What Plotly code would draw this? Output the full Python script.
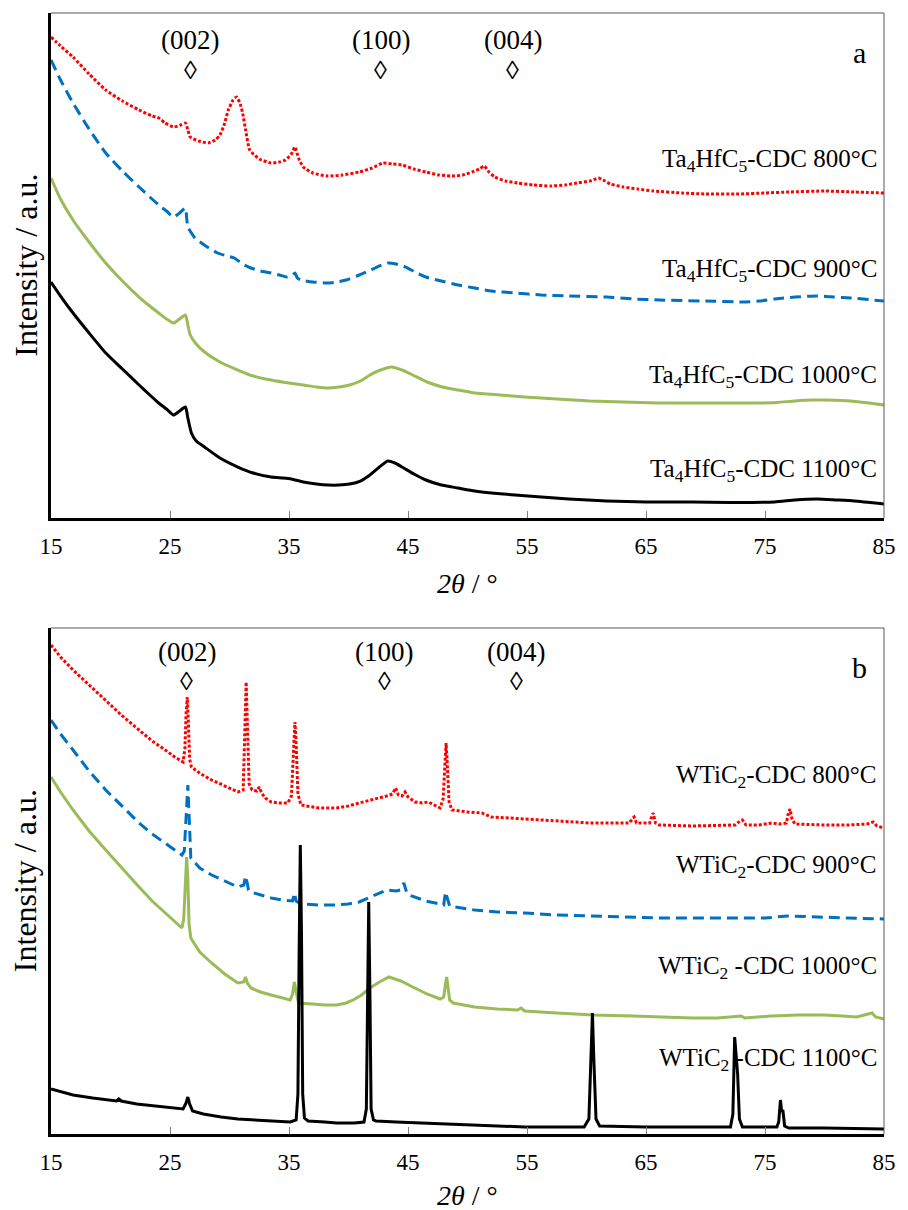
import plotly.graph_objects as go

# ---------------- Panel a : Ta4HfC5-CDC ----------------
a800_x = [15, 15.8, 16.85, 18.2, 19.6, 21.0, 22.4, 23.5, 24.05, 24.6, 25.3, 25.9, 26.3, 26.5, 26.7, 27.4, 28.2, 28.8, 29.2, 29.6, 29.9, 30.3, 30.6, 30.9, 31.1, 31.4, 31.7, 32.5, 33.5, 34.2, 34.7, 35.2, 35.5, 35.8, 36.2, 37.0, 38.2, 39.5, 40.9, 42.0, 42.9, 43.7, 44.5, 45.5, 46.5, 47.6, 48.7, 49.6, 50.4, 51.0, 51.4, 51.8, 52.3, 53.2, 54.2, 55.5, 57.0, 58.2, 59.2, 60.3, 61.0, 61.4, 62.0, 63.1, 64.3, 65.6, 68, 70, 72.8, 75, 77, 80.0, 82.5, 85]
a800_y = [481, 472, 461, 444, 428, 417, 408, 402, 400, 395, 391, 393, 395, 388, 381, 377, 375, 378, 383, 395, 408, 418, 421, 414, 405, 385, 368, 359, 355, 356, 358, 364, 371, 360, 351, 345, 342, 343, 346, 350, 355, 354, 353, 349, 346, 343, 342, 343, 346, 349, 352, 346, 341, 337, 335, 333, 332, 333, 335, 337, 340, 338, 334, 331, 329, 327, 325, 324, 324, 325, 326, 327, 326, 325]

a900_x = [15, 15.8, 16.85, 18.2, 19.6, 21.0, 22.4, 23.3, 24.05, 24.7, 25.3, 25.8, 26.3, 26.4, 26.5, 26.8, 27.1, 28.0, 29.0, 29.8, 30.4, 31.1, 31.8, 32.6, 33.5, 34.2, 34.8, 35.2, 35.5, 35.7, 36.0, 37.0, 38.2, 39.0, 39.8, 40.7, 41.5, 42.4, 43.3, 44.0, 44.8, 45.6, 46.5, 47.8, 49.2, 50.6, 52.0, 54.0, 56.2, 58.5, 61.7, 64, 66.1, 70, 73.1, 74.5, 75.8, 77.5, 79.4, 80.8, 82.2, 85]
a900_y = [458, 438, 415, 389, 365, 347, 331, 321, 313, 307, 301, 305, 310, 300, 291, 285, 280, 272, 265, 262, 260, 254, 250, 247, 245, 243, 241, 242, 245, 240, 238, 236, 235, 236, 238, 242, 246, 251, 255, 254, 251, 246, 241, 237, 233, 230, 227, 225, 223, 222, 221, 219, 218, 217, 216, 217, 219, 221, 222, 221, 220, 217]

a1000_x = [15, 15.8, 16.85, 18.2, 19.6, 21.0, 22.4, 23.3, 24.05, 24.7, 25.3, 25.8, 26.3, 26.5, 26.7, 27.2, 27.9, 29.2, 30.7, 32.0, 33.5, 35.0, 36.2, 37.3, 38.3, 39.2, 40.1, 41.0, 41.8, 42.7, 43.6, 44.5, 45.4, 46.6, 47.9, 49.2, 50.6, 52.7, 54.8, 57.5, 60.3, 63.1, 66, 68.9, 71.5, 74.4, 76, 77.5, 79, 80.0, 81.5, 83, 85]
a1000_y = [340, 319, 298, 276, 255, 237, 221, 212, 205, 199, 195, 199, 203, 193, 183, 174, 166, 156, 148, 142, 138, 135, 133, 131, 130, 131, 133, 137, 143, 148, 151, 148, 143, 136, 131, 128, 125, 123, 121, 119, 117, 116, 115, 115, 115, 115, 115.5, 117, 118, 118, 117.5, 116, 113]

a1100_x = [15, 15.8, 16.85, 18.2, 19.6, 21.0, 22.4, 23.3, 24.05, 24.7, 25.3, 25.8, 26.3, 26.5, 26.8, 27.2, 27.9, 29.2, 30.7, 32.0, 33.5, 34.5, 35.2, 36.2, 37.3, 38.3, 39.2, 40.1, 41.0, 41.8, 42.6, 43.3, 43.9, 44.5, 45.5, 46.5, 47.8, 49.2, 50.6, 52.0, 54.0, 56.2, 58.5, 61.7, 65, 68.9, 72, 75.8, 77.5, 79.4, 81, 82.5, 85]
a1100_y = [236, 222, 205, 185, 165, 149, 133, 123, 115, 109, 103, 107, 111, 100, 85, 77, 71, 60, 51, 45, 41, 40, 39, 36, 34, 33, 33, 34, 37, 43, 51, 57, 55, 51, 44, 38, 33, 30, 27, 25, 23, 21, 19, 17, 16, 16, 15.5, 16, 18, 19, 18, 17, 14]

# ---------------- Panel b : WTiC2-CDC ----------------
b800_x = [15, 15.8, 16.85, 18.2, 19.6, 21.0, 22.4, 23.5, 24.6, 25.4, 26.1, 26.25, 26.35, 26.45, 26.55, 26.65, 26.8, 27.6, 28.5, 29.6, 30.7, 31.15, 31.3, 31.4, 31.5, 31.65, 31.9, 32.3, 32.5, 32.7, 33.0, 33.5, 34.2, 34.9, 35.2, 35.35, 35.5, 35.6, 35.75, 36.0, 37.5, 39.0, 40.0, 40.9, 42.0, 43.2, 43.7, 43.95, 44.2, 44.5, 44.75, 45.0, 45.6, 46.2, 46.7, 47.2, 47.7, 47.95, 48.1, 48.2, 48.3, 48.45, 48.7, 50.0, 51.2, 52.0, 53.5, 54.8, 57.5, 60.3, 62, 63.6, 63.9, 64.0, 64.2, 64.6, 65.3, 65.5, 65.6, 65.8, 66.1, 68.9, 72.5, 72.9, 73.1, 73.4, 74.5, 75.6, 76.2, 76.8, 76.95, 77.1, 77.25, 77.5, 80.0, 82, 83.6, 84.1, 84.4, 85]
b800_y = [489, 477, 464, 449, 434, 418, 404, 393, 384, 377, 372, 385, 420, 437, 410, 375, 367, 360, 354, 348, 342, 344, 400, 452, 410, 350, 344, 343, 347, 341, 336, 332, 331, 331, 338, 380, 412, 390, 340, 329, 326, 326, 328, 331, 334, 338, 340, 346, 339, 338, 342, 337, 332, 331, 332, 329, 326, 335, 370, 391, 370, 332, 324, 322, 321, 317, 316, 315, 313, 311, 311, 311, 316, 317, 311, 311, 311, 318, 321, 311, 309, 308, 309, 313, 314, 309, 309, 311, 310, 311, 320, 325, 316, 310, 309, 309, 310, 312, 308, 306]

b900_x = [15, 15.8, 16.85, 18.2, 19.6, 21.0, 22.4, 23.5, 24.6, 25.4, 26.0, 26.2, 26.35, 26.5, 26.6, 26.75, 27.5, 28.5, 29.6, 30.7, 31.2, 31.35, 31.45, 31.6, 31.8, 32.6, 33.5, 34.4, 35.3, 35.45, 35.6, 36.0, 37.5, 39.0, 40.0, 40.9, 42.0, 43.2, 44.0, 44.35, 44.65, 44.9, 45.3, 46.5, 47.3, 48.0, 48.15, 48.3, 48.5, 49.5, 50.6, 52.5, 54.8, 57.5, 60.3, 63.1, 66, 68.9, 72, 75, 76.9, 79, 82, 85]
b900_y = [414, 400, 384, 363, 344, 327, 311, 300, 291, 284, 279, 283, 320, 349, 320, 276, 266, 259, 253, 247, 249, 258, 253, 244, 242, 239, 236, 234, 233, 241, 233, 230, 229, 229, 230, 232, 238, 244, 243, 244, 251, 241, 238, 233, 231, 229, 242, 235, 228, 226, 224, 222, 221, 219, 218, 217, 216, 216, 216, 216, 218, 217, 216, 215]

b1000_x = [15, 15.8, 16.85, 18.2, 19.6, 21.0, 22.4, 23.5, 24.6, 25.4, 26.0, 26.15, 26.3, 26.4, 26.5, 26.6, 26.75, 27.5, 28.5, 29.6, 30.7, 31.2, 31.35, 31.5, 31.8, 32.6, 33.5, 34.4, 35.1, 35.3, 35.45, 35.6, 35.8, 37.0, 38.0, 39.0, 39.8, 40.4, 41.1, 41.8, 42.6, 43.4, 44.4, 45.4, 46.6, 47.7, 48.0, 48.15, 48.25, 48.35, 48.5, 48.8, 50.6, 52.5, 54.2, 54.5, 54.8, 57.5, 60.6, 63.9, 66.5, 68.9, 71, 73.0, 73.3, 75.5, 77.8, 80.0, 81.5, 82.7, 84.0, 84.3, 85]
b1000_y = [357, 342, 324, 303, 284, 265, 247, 233, 221, 213, 206, 215, 255, 277, 255, 210, 196, 182, 171, 160, 151, 152, 157, 151, 146, 142, 139, 136, 134, 140, 152, 142, 131, 130, 129, 129, 131, 134, 139, 146, 152, 157, 153, 147, 140, 135, 137, 150, 157, 148, 134, 131, 127, 125, 124, 126, 123, 121, 119, 118, 117, 116, 116, 118, 116, 118, 119, 119, 118, 117, 121, 117, 115]

b1100_x = [15, 16.0, 16.85, 18.5, 20.5, 20.7, 20.9, 22.2, 23.8, 25.0, 26.1, 26.35, 26.5, 26.65, 26.9, 27.8, 29.3, 30.7, 32.1, 33.6, 35.1, 35.6, 35.75, 35.85, 35.95, 36.05, 36.15, 36.3, 36.6, 38, 39.0, 40.5, 41.3, 41.5, 41.6, 41.7, 41.8, 41.9, 42.1, 42.3, 44, 46.5, 50, 54.8, 57.5, 59.8, 60.2, 60.4, 60.5, 60.6, 60.8, 61.1, 65, 68, 72.1, 72.3, 72.45, 72.6, 72.7, 72.85, 73.1, 75, 76.0, 76.15, 76.3, 76.4, 76.5, 76.65, 77, 80, 85]
b1100_y = [45, 42, 39, 36, 33, 35, 33, 30, 28, 27, 25, 31, 37, 30, 23, 20, 17, 15, 14, 13, 12, 14, 40, 180, 289, 200, 40, 16, 13, 12, 11, 11, 12, 25, 150, 232, 140, 25, 14, 13, 12, 11, 9, 7, 7, 7, 15, 80, 121, 80, 15, 8, 7, 7, 7, 20, 97, 75, 60, 15, 7, 7, 7, 12, 34, 22, 24, 8, 6, 6, 5]

# labels
a_labels = ["Ta<sub>4</sub>HfC<sub>5</sub>-CDC 800°C", "Ta<sub>4</sub>HfC<sub>5</sub>-CDC 900°C",
            "Ta<sub>4</sub>HfC<sub>5</sub>-CDC 1000°C", "Ta<sub>4</sub>HfC<sub>5</sub>-CDC 1100°C"]
b_labels = ["WTiC<sub>2</sub>-CDC 800°C", "WTiC<sub>2</sub>-CDC 900°C",
            "WTiC<sub>2</sub> -CDC 1000°C", "WTiC<sub>2</sub> -CDC 1100°C"]
a_label_y = [358, 248, 142, 48]
b_label_y = [357, 267, 166, 75]
hkl = ["(002)", "(100)", "(004)"]
a_hkl_x = [26.7, 42.7, 53.8]
b_hkl_x = [26.4, 43.0, 54.1]
xticks = [15, 25, 35, 45, 55, 65, 75, 85]

FONT = "Liberation Serif, Times New Roman, serif"
styles = [dict(color="#FF0000", width=3, dash="3px,2px"),
          dict(color="#0070C0", width=3, dash="11px,6px"),
          dict(color="#9BBB59", width=3),
          dict(color="#000000", width=3)]

fig = go.Figure()
for (xs, ys), st in zip([(a800_x, a800_y), (a900_x, a900_y), (a1000_x, a1000_y), (a1100_x, a1100_y)], styles):
    fig.add_trace(go.Scatter(x=xs, y=ys, mode="lines", line=dict(shape="spline", smoothing=0.5, **st),
                             xaxis="x", yaxis="y", showlegend=False))
for (xs, ys), st in zip([(b800_x, b800_y), (b900_x, b900_y), (b1000_x, b1000_y), (b1100_x, b1100_y)], styles):
    fig.add_trace(go.Scatter(x=xs, y=ys, mode="lines", line=st, xaxis="x2", yaxis="y2", showlegend=False))

xcommon = dict(range=[15, 85], tickvals=xticks, ticks="inside", ticklen=7, tickcolor="#808080", tickwidth=1,
               showline=True, linecolor="black", linewidth=2.5, showgrid=False, zeroline=False,
               tickfont=dict(family=FONT, size=23, color="black"), ticklabelstandoff=6)
ycommon = dict(showticklabels=False, ticks="", showline=True, linecolor="black", linewidth=2.5,
               showgrid=False, zeroline=False)

fig.update_layout(
    width=908, height=1210, plot_bgcolor="white", paper_bgcolor="white",
    font=dict(family=FONT, color="black"),
    margin=dict(l=51, r=14, t=13, b=76),
    xaxis=dict(domain=[0, 1], anchor="y", **xcommon),
    yaxis=dict(domain=[0.5495, 1.0], anchor="x", range=[0, 505], **ycommon),
    xaxis2=dict(domain=[0, 1], anchor="y2", **xcommon),
    yaxis2=dict(domain=[0.0, 0.4514], anchor="x2", range=[0, 506], **ycommon),
)

anns = []
shapes = []
for xa, ya, labels, label_y, hx, letter, hkl_y, dia_y, title_off, yr in [
        ("x", "y", a_labels, a_label_y, a_hkl_x, "a", 478, 448, 65, 505),
        ("x2", "y2", b_labels, b_label_y, b_hkl_x, "b", 482, 452, 61, 506)]:
    for t, yy in zip(labels, label_y):
        anns.append(dict(x=84.6, y=yy, xref=xa, yref=ya, text=t, showarrow=False, xanchor="right",
                         yanchor="middle", font=dict(family=FONT, size=25, color="black")))
    for t, xx in zip(hkl, hx):
        anns.append(dict(x=xx, y=hkl_y, xref=xa, yref=ya, text=t, showarrow=False, xanchor="center",
                         yanchor="middle", font=dict(family=FONT, size=27, color="black")))
        anns.append(dict(x=xx, y=dia_y, xref=xa, yref=ya, text="◊", showarrow=False, xanchor="center",
                         yanchor="middle", font=dict(family=FONT, size=26, color="black")))
    anns.append(dict(x=82.9, y=466, xref=xa, yref=ya, text=letter, showarrow=False, xanchor="center",
                     yanchor="middle", font=dict(family=FONT, size=30, color="black")))
    anns.append(dict(x=-0.031, y=0.5, xref=xa + " domain", yref=ya + " domain", text="Intensity / a.u.",
                     textangle=-90, showarrow=False, xanchor="center", yanchor="middle",
                     font=dict(family=FONT, size=32, color="black")))
    anns.append(dict(x=0.5, y=-title_off / yr, xref=xa + " domain", yref=ya + " domain", text="<i>2θ</i> / °",
                     showarrow=False, xanchor="center", yanchor="middle",
                     font=dict(family=FONT, size=28, color="black")))
    shapes.append(dict(type="line", xref=xa + " domain", yref=ya + " domain", x0=0, x1=1, y0=1, y1=1,
                       line=dict(color="#595959", width=1)))
    shapes.append(dict(type="line", xref=xa + " domain", yref=ya + " domain", x0=1, x1=1, y0=0, y1=1,
                       line=dict(color="#595959", width=1)))

fig.update_layout(annotations=anns, shapes=shapes)
fig.write_html("out.html")
